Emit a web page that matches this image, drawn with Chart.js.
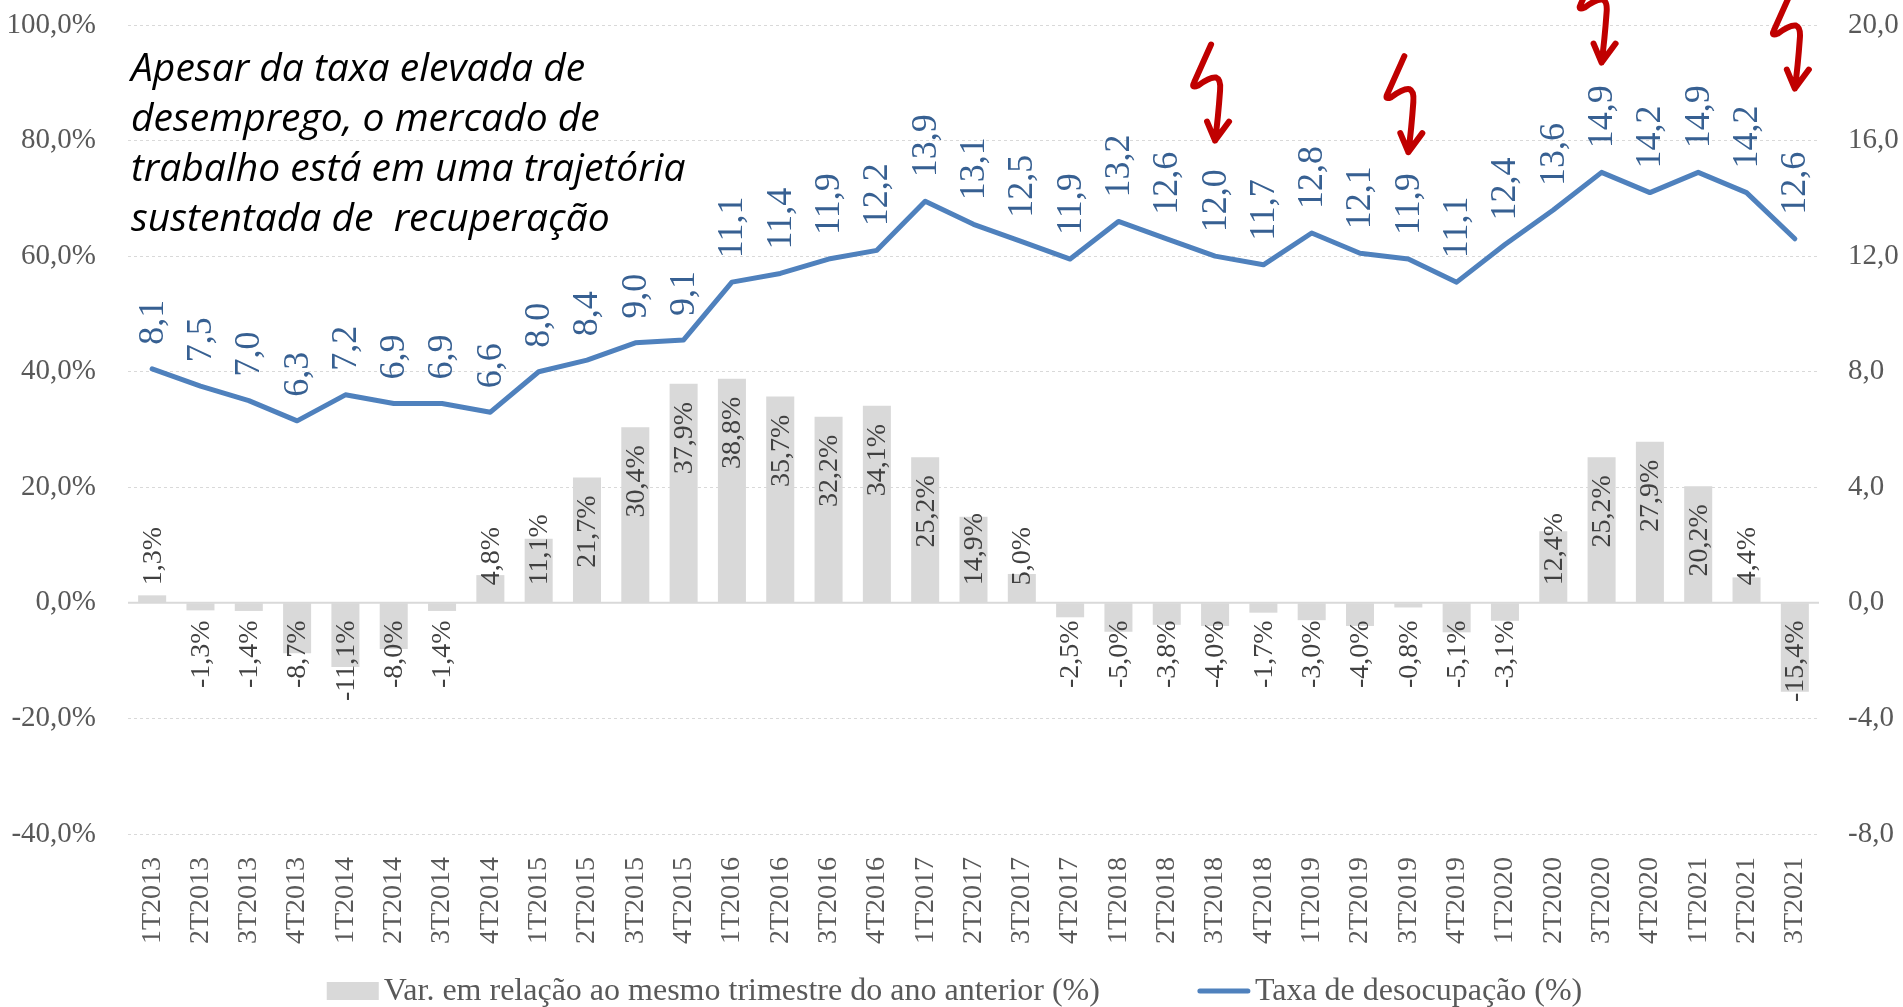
<!DOCTYPE html>
<html>
<head>
<meta charset="utf-8">
<script src="https://cdn.jsdelivr.net/npm/chart.js@4.4.1/dist/chart.umd.min.js"></script>
<style>
  body { margin: 0; background: #fff; }
  #wrap { position: relative; width: 1903px; height: 1007px; }
  #note {
    position: absolute; left: 131px; top: 41px;
    font: italic 39px "Open Sans"; line-height: 50px; color: #000;
    white-space: pre;
  }
</style>
</head>
<body>
<div id="wrap">
  <canvas id="chart"></canvas>
  <div id="note">Apesar da taxa elevada de
desemprego, o mercado de
trabalho está em uma trajetória
sustentada de  recuperação</div>
</div>
<script>
//* quarters
const quarters = ['1T2013', '2T2013', '3T2013', '4T2013', '1T2014', '2T2014', '3T2014', '4T2014',
    '1T2015', '2T2015', '3T2015', '4T2015', '1T2016', '2T2016', '3T2016', '4T2016',
    '1T2017', '2T2017', '3T2017', '4T2017', '1T2018', '2T2018', '3T2018', '4T2018',
    '1T2019', '2T2019', '3T2019', '4T2019', '1T2020', '2T2020', '3T2020', '4T2020',
    '1T2021', '2T2021', '3T2021'];

//* Taxa de desocupação (%) -> right axis
const taxaDesocupacao = [8.1, 7.5, 7.0, 6.3, 7.2, 6.9, 6.9, 6.6,
    8.0, 8.4, 9.0, 9.1, 11.1, 11.4, 11.9, 12.2,
    13.9, 13.1, 12.5, 11.9, 13.2, 12.6, 12.0, 11.7,
    12.8, 12.1, 11.9, 11.1, 12.4, 13.6, 14.9, 14.2,
    14.9, 14.2, 12.6];

//* Var. em relação ao mesmo trimestre do ano anterior (%) -> left axis
const varAnoAnterior = [1.3, -1.3, -1.4, -8.7, -11.1, -8.0, -1.4, 4.8,
    11.1, 21.7, 30.4, 37.9, 38.8, 35.7, 32.2, 34.1,
    25.2, 14.9, 5.0, -2.5, -5.0, -3.8, -4.0, -1.7,
    -3.0, -4.0, -0.8, -5.1, -3.1, 12.4, 25.2, 27.9,
    20.2, 4.4, -15.4];

//* axis ticks
const leftTicks = [-40, -20, 0, 20, 40, 60, 80, 100];
const rightTicks = [-8, -4, 0, 4, 8, 12, 16, 20];

//* red arrows: quarter they point at + value (right axis) of the tip
const arrowQuarters = ['3T2018', '3T2019', '3T2020', '3T2021'];
const arrowTips = [16.0, 15.6, 18.7, 17.8];

const barLabel = 'Var. em relação ao mesmo trimestre do ano anterior (%)';
const lineLabel = 'Taxa de desocupação (%)';

const SERIF = '"Liberation Serif", "Times New Roman", serif';
const GREY_TXT = '#595959';

function fmt(v) {
    return v.toFixed(1).replace('.', ',');
}

// labels on bars and line points (rotated, like excel)
const valueLabels = {
    id: 'valueLabels',
    afterDatasetsDraw(chart) {
        const ctx = chart.ctx;
        chart.data.datasets.forEach((ds, di) => {
            const meta = chart.getDatasetMeta(di);
            meta.data.forEach((el, i) => {
                const v = ds.data[i];
                ctx.save();
                if (ds.type === 'bar') {
                    const txt = fmt(v) + '%';
                    ctx.font = '28px ' + SERIF;
                    ctx.fillStyle = '#404040';
                    const len = ctx.measureText(txt).width;
                    const pad = 17;
                    let bottom;
                    if (v >= 0) {
                        bottom = Math.min(el.y + 18 + len, el.base - pad);
                    } else {
                        let top = Math.max(el.y - 18 - len, el.base + pad);
                        bottom = top + len;
                    }
                    ctx.translate(el.x, bottom);
                    ctx.rotate(-Math.PI / 2);
                    ctx.textAlign = 'left';
                    ctx.textBaseline = 'middle';
                    ctx.fillText(txt, 0, 1);
                } else {
                    ctx.font = '36px ' + SERIF;
                    ctx.fillStyle = '#376092';
                    ctx.translate(el.x, el.y - 24);
                    ctx.rotate(-Math.PI / 2);
                    ctx.textAlign = 'left';
                    ctx.textBaseline = 'middle';
                    ctx.fillText(fmt(v), 0, 1);
                }
                ctx.restore();
            });
        });
    }
};

// solid zero line of the bar axis
const zeroLine = {
    id: 'zeroLine',
    beforeDatasetsDraw(chart) {
        const ctx = chart.ctx;
        const a = chart.chartArea;
        const y0 = chart.scales.y.getPixelForValue(0);
        ctx.save();
        ctx.strokeStyle = '#D9D9D9';
        ctx.lineWidth = 2;
        ctx.beginPath();
        ctx.moveTo(a.left, y0);
        ctx.lineTo(a.right, y0);
        ctx.stroke();
        ctx.restore();
    }
};

// red squiggly arrows
const redArrows = {
    id: 'redArrows',
    afterDraw(chart) {
        const ctx = chart.ctx;
        const xs = chart.scales.x;
        const yr = chart.scales.y1;
        ctx.save();
        ctx.strokeStyle = '#C00000';
        ctx.lineWidth = 6;
        ctx.lineCap = 'round';
        ctx.lineJoin = 'round';
        for (let i = 0; i < arrowQuarters.length; i++) {
            const x = xs.getPixelForValue(quarters.indexOf(arrowQuarters[i]));
            const y = yr.getPixelForValue(arrowTips[i]);
            ctx.save();
            ctx.translate(x, y);
            ctx.beginPath();
            ctx.moveTo(-4, -96);
            ctx.lineTo(-21, -58);
            ctx.quadraticCurveTo(-24, -52, -17, -55);
            ctx.quadraticCurveTo(-5, -64, 1, -63);
            ctx.quadraticCurveTo(6, -61, 5, -50);
            ctx.quadraticCurveTo(3, -22, 0, 0);
            ctx.moveTo(-8, -19);
            ctx.lineTo(0, 0);
            ctx.lineTo(14, -19);
            ctx.stroke();
            ctx.restore();
        }
        ctx.restore();
    }
};

// legend at the bottom, centered
const bottomLegend = {
    id: 'bottomLegend',
    afterDraw(chart) {
        const ctx = chart.ctx;
        const y = chart.height - 16;
        const boxW = 52, gap = 5, itemGap = 98;
        ctx.save();
        ctx.font = '32px ' + SERIF;
        const w1 = ctx.measureText(barLabel).width;
        const w2 = ctx.measureText(lineLabel).width;
        const total = boxW + gap + w1 + itemGap + boxW + gap + w2;
        let x = (chart.width - total) / 2 + 3;
        ctx.fillStyle = '#D9D9D9';
        ctx.fillRect(x, y - 9, boxW, 18);
        ctx.fillStyle = GREY_TXT;
        ctx.textBaseline = 'middle';
        ctx.fillText(barLabel, x + boxW + gap, y + 1);
        x += boxW + gap + w1 + itemGap;
        ctx.strokeStyle = '#4F81BD';
        ctx.lineWidth = 5;
        ctx.lineCap = 'round';
        ctx.beginPath();
        ctx.moveTo(x + 2, y);
        ctx.lineTo(x + boxW - 2, y);
        ctx.stroke();
        ctx.fillText(lineLabel, x + boxW + gap, y + 1);
        ctx.restore();
    }
};

const chartEl = document.querySelector('#chart').getContext('2d');
const desempregoChart = new Chart(chartEl, {
    data: {
        labels: quarters,
        datasets: [{
            type: 'line',
            label: lineLabel,
            data: taxaDesocupacao,
            yAxisID: 'y1',
            borderColor: '#4F81BD',
            borderWidth: 5,
            pointRadius: 0,
            tension: 0,
            borderJoinStyle: 'round',
            borderCapStyle: 'round',
            order: 1
        }, {
            type: 'bar',
            label: barLabel,
            data: varAnoAnterior,
            yAxisID: 'y',
            backgroundColor: '#D9D9D9',
            categoryPercentage: 1,
            barPercentage: 0.58,
            order: 2
        }]
    },
    options: {
        responsive: true,
        maintainAspectRatio: false,
        animation: false,
        layout: { padding: { top: 25, bottom: 50, left: 0, right: 0 } },
        plugins: {
            legend: { display: false },
            tooltip: { enabled: false }
        },
        scales: {
            x: {
                grid: { display: false, drawTicks: false },
                border: { display: false },
                ticks: {
                    autoSkip: false,
                    minRotation: 90,
                    maxRotation: 90,
                    padding: 23,
                    color: GREY_TXT,
                    font: { family: SERIF, size: 28 }
                },
                afterFit(s) { s.height = 123; }
            },
            y: {
                position: 'left',
                min: leftTicks[0],
                max: leftTicks[leftTicks.length - 1],
                afterBuildTicks(s) { s.ticks = leftTicks.map(v => ({ value: v })); },
                grid: { color: '#D9D9D9', lineWidth: 1, drawTicks: false },
                border: { display: false, dash: [3, 3] },
                ticks: {
                    padding: 32,
                    color: GREY_TXT,
                    font: { family: SERIF, size: 29 },
                    callback: v => fmt(v) + '%'
                },
                afterFit(s) {
                    s.width = 128;
                    s.paddingTop = 0;
                    s.paddingBottom = 0;
                }
            },
            y1: {
                position: 'right',
                min: rightTicks[0],
                max: rightTicks[rightTicks.length - 1],
                afterBuildTicks(s) { s.ticks = rightTicks.map(v => ({ value: v })); },
                grid: { display: false, drawTicks: false },
                border: { display: false },
                ticks: {
                    padding: 29,
                    color: GREY_TXT,
                    font: { family: SERIF, size: 29 },
                    callback: v => fmt(v)
                },
                afterFit(s) {
                    s.width = 84;
                    s.paddingTop = 0;
                    s.paddingBottom = 0;
                }
            }
        }
    },
    plugins: [zeroLine, valueLabels, redArrows, bottomLegend]
});
</script>
</body>
</html>
